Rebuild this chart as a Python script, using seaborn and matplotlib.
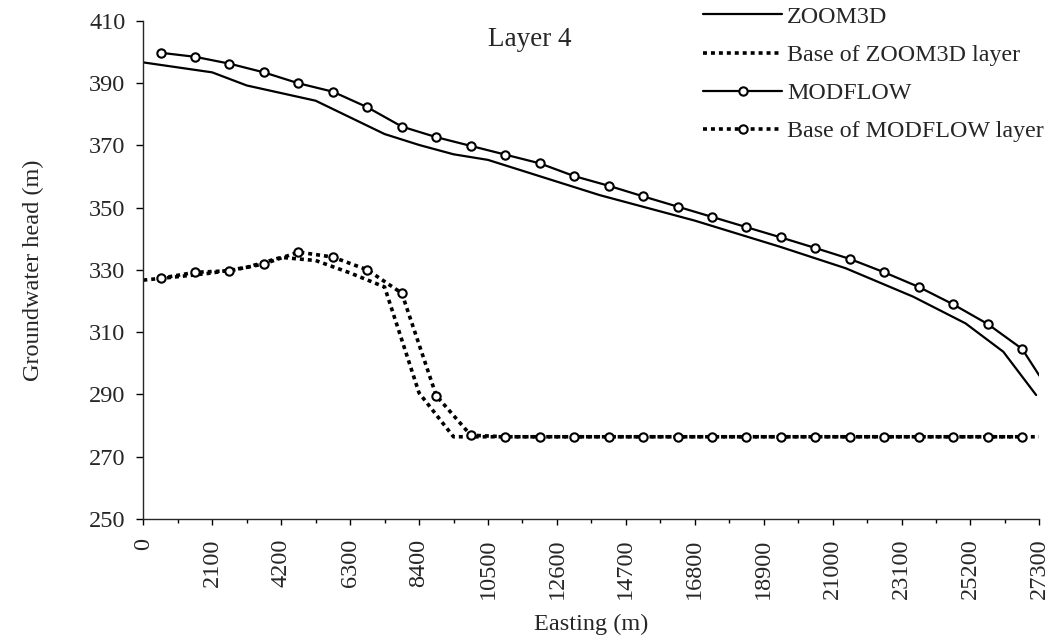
import matplotlib
matplotlib.use("Agg")
import matplotlib.pyplot as plt
import seaborn as sns
from matplotlib.ticker import MultipleLocator
from matplotlib.lines import Line2D

# ---------------- data ----------------
zoom3d_x = [0, 2100, 3150, 5250, 7350, 8400, 9450, 10500, 13900, 16800,
            19400, 21400, 23450, 25050, 26200, 27200]
zoom3d_head = [396.6, 393.4, 389.2, 384.3, 373.6, 370.1, 367.1, 365.3, 354.0, 345.8,
               337.4, 330.5, 321.4, 312.8, 303.7, 289.8]

modflow_x = [525, 1575, 2625, 3675, 4725, 5775, 6825, 7875, 8925, 9975,
             11025, 12075, 13125, 14175, 15225, 16275, 17325, 18375, 19425, 20475,
             21525, 22575, 23625, 24675, 25725, 26775, 27300]
modflow_head = [399.7, 398.4, 396.2, 393.4, 389.9, 387.2, 382.2, 376.0, 372.6, 369.8,
                367.0, 364.2, 360.1, 357.0, 353.6, 350.3, 347.0, 343.7, 340.4, 337.0,
                333.5, 329.2, 324.5, 318.9, 312.6, 304.6, 296.0]

base_zoom3d_x = [0, 1050, 2100, 3150, 4200, 5250, 6300, 7350, 8400, 9450,
                 10500, 11550, 12600, 13650, 14700, 15750, 16800, 17850, 18900, 19950,
                 21000, 22050, 23100, 24150, 25200, 26250, 27300]
base_zoom3d = [326.7, 327.8, 329.0, 330.8, 334.0, 333.0, 329.0, 324.5, 290.5, 276.4,
               276.4, 276.4, 276.4, 276.4, 276.4, 276.4, 276.4, 276.4, 276.4, 276.4,
               276.4, 276.4, 276.4, 276.4, 276.4, 276.4, 276.4]

base_modflow_x = [525, 1575, 2625, 3675, 4725, 5775, 6825, 7875, 8925, 9975,
                  11025, 12075, 13125, 14175, 15225, 16275, 17325, 18375, 19425, 20475,
                  21525, 22575, 23625, 24675, 25725, 26775]
base_modflow = [327.3, 329.2, 329.7, 331.9, 335.7, 334.1, 330.0, 322.5, 289.6, 276.9,
                276.4, 276.4, 276.4, 276.4, 276.4, 276.4, 276.4, 276.4, 276.4, 276.4,
                276.4, 276.4, 276.4, 276.4, 276.4, 276.4]

x_ticks = [0, 2100, 4200, 6300, 8400, 10500, 12600, 14700, 16800, 18900,
           21000, 23100, 25200, 27300]
y_ticks = [250, 270, 290, 310, 330, 350, 370, 390, 410]

series_labels = ["ZOOM3D", "Base of ZOOM3D layer", "MODFLOW", "Base of MODFLOW layer"]

# ---------------- style ----------------
sns.set_style("ticks")
plt.rcParams['font.family'] = ['Liberation Serif', 'DejaVu Serif']
plt.rcParams['axes.linewidth'] = 1.0

TICK_FS = 17.5
LAB_FS = 17.5
LEG_FS = 17.3
DOT = (0, (1.1, 1.1))
marker_kw = dict(marker='o', markersize=6, markerfacecolor='white',
                 markeredgecolor='black', markeredgewidth=1.5)

fig = plt.figure(figsize=(10.53, 6.42), dpi=100)
ax = fig.add_axes([0.1361, 0.1916, 0.851, 0.7762])

sns.lineplot(x=zoom3d_x, y=zoom3d_head, ax=ax, color='black', lw=1.6,
             estimator=None, sort=False)
sns.lineplot(x=base_zoom3d_x, y=base_zoom3d, ax=ax, color='black', lw=2.6,
             linestyle=DOT, estimator=None, sort=False)
sns.lineplot(x=modflow_x, y=modflow_head, ax=ax, color='black', lw=1.6,
             estimator=None, sort=False, markevery=list(range(len(modflow_x) - 1)),
             **marker_kw)
sns.lineplot(x=base_modflow_x, y=base_modflow, ax=ax, color='black', lw=2.6,
             linestyle=DOT, estimator=None, sort=False, **marker_kw)

if ax.get_legend() is not None:
    ax.get_legend().remove()

ax.set_xlim(0, 27300)
ax.set_ylim(250, 410)
ax.set_xticks(x_ticks)
ax.set_xticklabels([str(t) for t in x_ticks], rotation=90, fontsize=TICK_FS)
ax.xaxis.set_minor_locator(MultipleLocator(1050))
ax.set_yticks(y_ticks)
ax.set_yticklabels([str(t) for t in y_ticks], fontsize=TICK_FS)

ax.tick_params(axis='x', which='major', direction='out', length=4, width=1, pad=10, color='black')
ax.tick_params(axis='x', which='minor', direction='out', length=2.6, width=1, color='black')
ax.tick_params(axis='y', which='major', direction='out', length=4.8, width=1, pad=8, color='black')
sns.despine(ax=ax)

ax.set_xlabel("Easting (m)", fontsize=LAB_FS)
ax.set_ylabel("Groundwater head (m)", fontsize=LAB_FS)
ax.xaxis.set_label_coords(0.5, -0.19)
ax.yaxis.set_label_coords(-0.111, 0.5)

ax.text(0.4316, 0.963, "Layer 4", transform=ax.transAxes, fontsize=19.5,
        ha='center', va='center')

handles = [
    Line2D([], [], color='black', lw=1.6),
    Line2D([], [], color='black', lw=2.6, linestyle=DOT),
    Line2D([], [], color='black', lw=1.6, **marker_kw),
    Line2D([], [], color='black', lw=2.6, linestyle=DOT, **marker_kw),
]
fig.legend(handles, series_labels, loc='upper left',
           bbox_to_anchor=(703 / 1053, 1 - 6 / 642), frameon=False,
           handlelength=3.3, handletextpad=0.2, labelspacing=0.68,
           borderpad=0, borderaxespad=0, fontsize=LEG_FS)

fig.savefig("out.png", dpi=100, facecolor='white')
